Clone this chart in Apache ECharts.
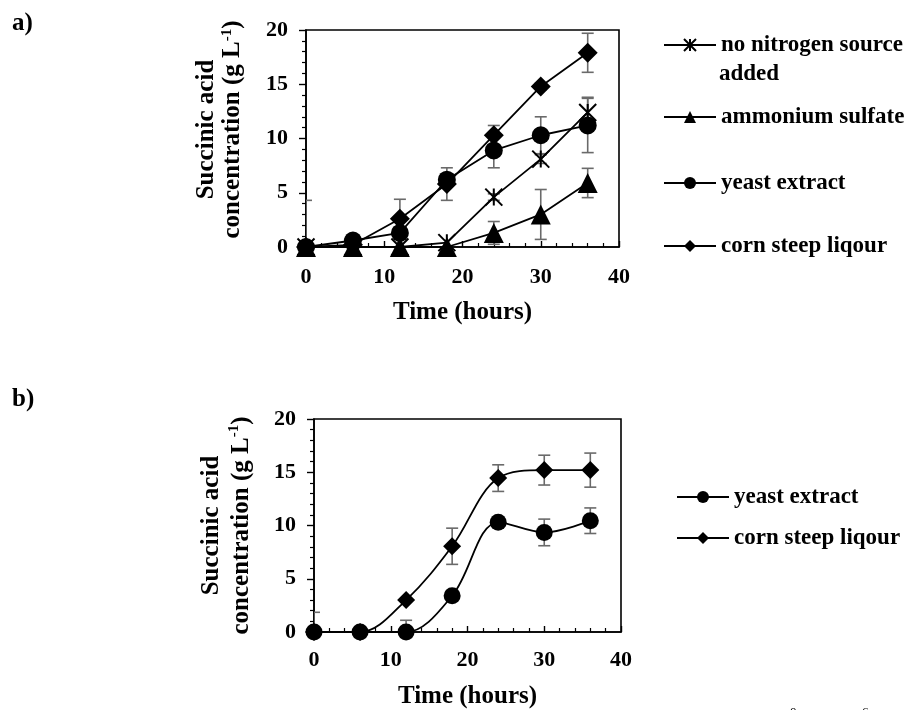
<!DOCTYPE html>
<html>
<head>
<meta charset="utf-8">
<script src="https://cdn.jsdelivr.net/npm/echarts@6/dist/echarts.min.js"></script>
<style>
  html, body { margin: 0; padding: 0; background: #fff; }
  #chart { width: 913px; height: 710px; }
</style>
</head>
<body>
<div id="chart"></div>
<script>
// sampling times (hours)
var hours = [0, 6, 12, 18, 24, 30, 36]
var xTicks = [0, 10, 20, 30, 40]
var yTicks = [0, 5, 10, 15, 20]

// panel a) - straight lines
var aNoNitrogen = [0, 0, 0, 0.4, 4.6, 8.1, 12.4]
var aNoNitrogenErr = [0, 0, 0, 0, 0.3, 0.4, 1.4]
var aAmmonium = [0, 0, 0, 0, 1.3, 3.0, 5.9]
var aAmmoniumErr = [0, 0, 0, 0, 1.05, 2.3, 1.35]
var aYeast = [0, 0.6, 1.3, 6.2, 8.9, 10.3, 11.2]
var aYeastErr = [4.3, 0, 0, 0, 1.6, 1.7, 2.5]
var aCorn = [0, 0.2, 2.6, 5.8, 10.3, 14.8, 17.9]
var aCornErr = [0, 0, 1.8, 1.5, 0.9, 0.3, 1.8]

// panel b) - smoothed lines
var bYeast = [0, 0, 0, 3.4, 10.3, 9.35, 10.45]
var bYeastErr = [1.85, 0, 1.1, 0, 0, 1.25, 1.2]
var bCorn = [0, 0, 3.0, 8.05, 14.45, 15.2, 15.2]
var bCornErr = [0, 0, 0, 1.7, 1.25, 1.4, 1.6]

var FONT = 'Liberation Serif'
var starPath = 'path://M0,0L10,10M10,0L0,10M5,0L5,10'

var chart = echarts.init(document.getElementById('chart'))

function pairs (vals) {
  return hours.map(function (h, i) { return [h, vals[i]] })
}

function errData (vals, errs) {
  var out = []
  hours.forEach(function (h, i) {
    if (errs[i] > 0) out.push([h, vals[i] - errs[i], vals[i] + errs[i]])
  })
  return out
}

// gray error bars with caps
function errSeries (idx, vals, errs) {
  return {
    type: 'custom',
    xAxisIndex: idx,
    yAxisIndex: idx,
    clip: true,
    z: 1,
    silent: true,
    data: errData(vals, errs),
    renderItem: function (params, api) {
      var x = api.value(0)
      var top = api.coord([x, api.value(2)])
      var bot = api.coord([x, api.value(1)])
      var w = 6
      var st = { stroke: '#6a6a6a', lineWidth: 1.6 }
      return {
        type: 'group',
        children: [
          { type: 'line', shape: { x1: top[0], y1: top[1], x2: bot[0], y2: bot[1] }, style: st },
          { type: 'line', shape: { x1: top[0] - w, y1: top[1], x2: top[0] + w, y2: top[1] }, style: st },
          { type: 'line', shape: { x1: bot[0] - w, y1: bot[1], x2: bot[0] + w, y2: bot[1] }, style: st }
        ]
      }
    }
  }
}

function lineSeries (idx, name, vals, symbol, size, smooth) {
  var s = {
    name: name,
    type: 'line',
    xAxisIndex: idx,
    yAxisIndex: idx,
    data: pairs(vals),
    symbol: symbol,
    symbolSize: size,
    smooth: smooth,
    z: 3,
    lineStyle: { color: '#000', width: 1.8 },
    itemStyle: { color: '#000' }
  }
  if (symbol === starPath) {
    s.itemStyle = { color: 'rgba(0,0,0,0)', borderColor: '#000', borderWidth: 2 }
  }
  return s
}

function xAxisFor (idx, gap, margin) {
  return {
    type: 'value',
    gridIndex: idx,
    min: xTicks[0],
    max: xTicks[xTicks.length - 1],
    interval: 10,
    name: 'Time (hours)',
    nameLocation: 'middle',
    nameGap: gap,
    nameTextStyle: { fontFamily: FONT, fontWeight: 'bold', fontSize: 25, color: '#000' },
    axisLine: { lineStyle: { color: '#000', width: 1.6 } },
    axisTick: { inside: true, length: 6, lineStyle: { color: '#000', width: 1.4 } },
    minorTick: { show: true, splitNumber: 5, length: 4, lineStyle: { color: '#000', width: 1.2 } },
    splitLine: { show: false },
    axisLabel: { margin: margin, fontFamily: FONT, fontWeight: 'bold', fontSize: 22, color: '#000' }
  }
}

function yAxisFor (idx, gap, lh, shift) {
  return {
    type: 'value',
    gridIndex: idx,
    min: yTicks[0],
    max: yTicks[yTicks.length - 1],
    interval: 5,
    name: 'Succinic acid\nconcentration (g L{sup|-1})',
    nameLocation: 'middle',
    nameRotate: 90,
    nameGap: gap,
    nameTextStyle: {
      fontFamily: FONT, fontWeight: 'bold', fontSize: 25, lineHeight: lh, color: '#000',
      padding: [0, 0, 0, shift],
      rich: { sup: { fontFamily: FONT, fontWeight: 'bold', fontSize: 15, verticalAlign: 'top', lineHeight: lh, color: '#000' } }
    },
    axisLine: { lineStyle: { color: '#000', width: 1.6 } },
    axisTick: { inside: false, length: 7, lineStyle: { color: '#000', width: 1.4 } },
    minorTick: { show: true, splitNumber: 5, length: 4, lineStyle: { color: '#000', width: 1.2 } },
    splitLine: { show: false },
    axisLabel: { margin: 18, fontFamily: FONT, fontWeight: 'bold', fontSize: 22, color: '#000' }
  }
}

function legendFor (name, left, centerY) {
  return {
    data: [name],
    left: left,
    top: centerY - 13,
    padding: 0,
    itemWidth: 52,
    itemHeight: 15,
    selectedMode: false,
    textStyle: { fontFamily: FONT, fontWeight: 'bold', fontSize: 23, lineHeight: 26, color: '#000' }
  }
}

var option = {
  animation: false,
  backgroundColor: '#fff',
  grid: [
    { left: 306, top: 30, width: 313, height: 217, show: true, borderColor: '#000', borderWidth: 1.6 },
    { left: 314, top: 419, width: 307, height: 215, show: true, borderColor: '#000', borderWidth: 1.6 }
  ],
  xAxis: [xAxisFor(0, 53, 19), xAxisFor(1, 52, 17)],
  yAxis: [yAxisFor(0, 60, 26, 18), yAxisFor(1, 57, 30, 0)],
  legend: [
    legendFor('no nitrogen source', 663, 45),
    legendFor('ammonium sulfate', 663, 117),
    legendFor('yeast extract', 663, 183),
    legendFor('corn steep liqour', 663, 246),
    legendFor('yeast extract ', 676, 497),
    legendFor('corn steep liqour ', 676, 538)
  ],
  graphic: [
    { type: 'text', left: 12, top: 11, style: { text: 'a)', font: 'bold 25px "Liberation Serif"', fill: '#000' } },
    { type: 'text', left: 12, top: 387, style: { text: 'b)', font: 'bold 25px "Liberation Serif"', fill: '#000' } },
    { type: 'text', left: 719, top: 63, style: { text: 'added', font: 'bold 23px "Liberation Serif"', fill: '#000' } },
    { type: 'text', left: 790, top: 706, style: { text: '0', font: '13px "Liberation Serif"', fill: '#000' } },
    { type: 'text', left: 862, top: 706, style: { text: '6', font: '13px "Liberation Serif"', fill: '#000' } }
  ],
  series: [
    errSeries(0, aCorn, aCornErr),
    errSeries(0, aYeast, aYeastErr),
    errSeries(0, aNoNitrogen, aNoNitrogenErr),
    errSeries(0, aAmmonium, aAmmoniumErr),
    lineSeries(0, 'corn steep liqour', aCorn, 'diamond', 20, false),
    lineSeries(0, 'yeast extract', aYeast, 'circle', 18, false),
    lineSeries(0, 'no nitrogen source', aNoNitrogen, starPath, 17, false),
    lineSeries(0, 'ammonium sulfate', aAmmonium, 'triangle', 20, false),
    errSeries(1, bCorn, bCornErr),
    errSeries(1, bYeast, bYeastErr),
    lineSeries(1, 'corn steep liqour ', bCorn, 'diamond', 18, 0.35),
    lineSeries(1, 'yeast extract ', bYeast, 'circle', 17, 0.35)
  ]
}

chart.setOption(option)
</script>
</body>
</html>
